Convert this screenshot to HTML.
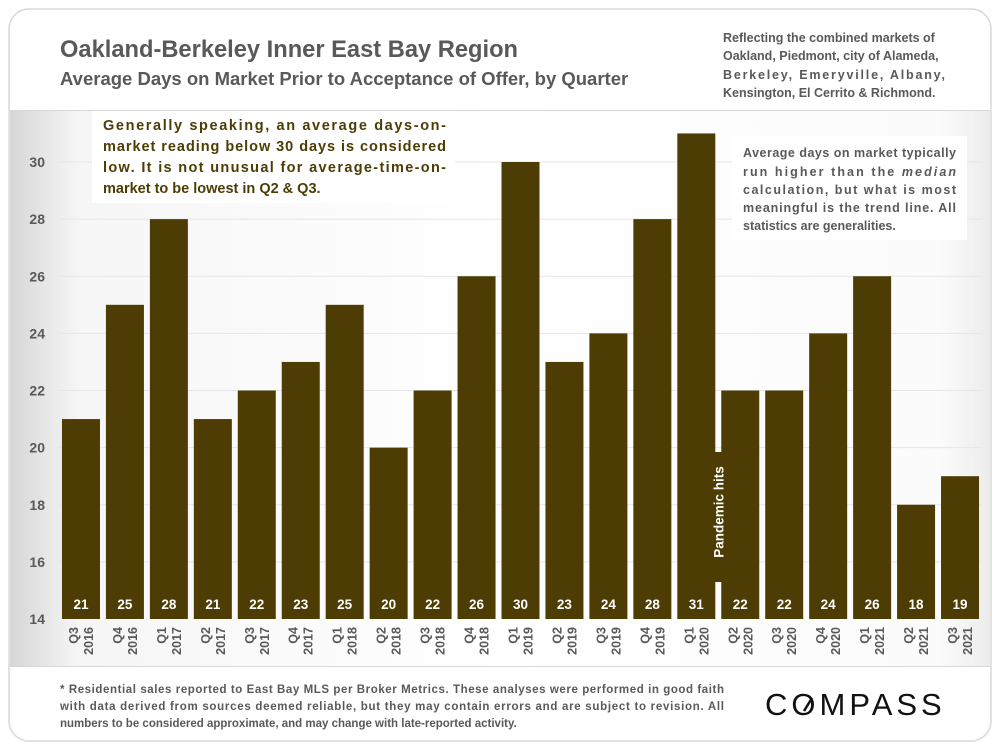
<!DOCTYPE html>
<html><head><meta charset="utf-8"><style>
html,body{margin:0;padding:0;background:#fff;}
body{width:1000px;height:750px;position:relative;overflow:hidden;font-family:"Liberation Sans",sans-serif;}
</style></head><body>
<svg width="1000" height="750" xmlns="http://www.w3.org/2000/svg" font-family="Liberation Sans, sans-serif">
<defs>
<linearGradient id="bg" x1="0" y1="0" x2="1" y2="0">
<stop offset="0" stop-color="#d6d6d6"/><stop offset="0.07" stop-color="#f6f6f6"/><stop offset="0.5" stop-color="#fff"/><stop offset="0.95" stop-color="#fbfbfb"/><stop offset="1" stop-color="#ececec"/>
</linearGradient>
</defs>
<rect x="9" y="9" width="982" height="732" rx="20" fill="#fff" stroke="#d8d8d8" stroke-width="1.5"/>
<rect x="10" y="111" width="980" height="555" fill="url(#bg)"/>
<line x1="10" y1="110.5" x2="990" y2="110.5" stroke="#d8d8d8"/>
<line x1="10" y1="666.5" x2="990" y2="666.5" stroke="#d8d8d8"/>
<text x="60" y="57" font-size="24" font-weight="bold" fill="#595959" textLength="458" lengthAdjust="spacingAndGlyphs">Oakland-Berkeley Inner East Bay Region</text>
<text x="60" y="85" font-size="18.5" font-weight="bold" fill="#595959">Average Days on Market Prior to Acceptance of Offer, by Quarter</text>
<g font-size="12.5" font-weight="bold" fill="#595959">
<text x="723" y="42">Reflecting the combined markets of</text>
<text x="723" y="60">Oakland, Piedmont, city of Alameda,</text>
<text x="723" y="79" textLength="222" lengthAdjust="spacing">Berkeley,    Emeryville,    Albany,</text>
<text x="723" y="97">Kensington, El Cerrito &amp; Richmond.</text>
</g>
<g id="grid"></g>
<g id="bars"></g>
<rect x="92" y="111" width="363" height="92" fill="#fff"/>
<g font-size="14.5" font-weight="bold" fill="#4d3d05">
<text x="103" y="130" textLength="343" lengthAdjust="spacing">Generally speaking, an average days-on-</text>
<text x="103" y="151" textLength="343" lengthAdjust="spacing">market reading below 30 days is considered</text>
<text x="103" y="172" textLength="343" lengthAdjust="spacing">low. It is not unusual for average-time-on-</text>
<text x="103" y="193">market to be lowest in Q2 &amp; Q3.</text>
</g>
<rect x="732" y="136" width="235" height="104" fill="#fff"/>
<g font-size="12.5" font-weight="bold" fill="#595959">
<text x="743" y="157" textLength="213" lengthAdjust="spacing">Average days on market typically</text>
<text x="743" y="176" textLength="213" lengthAdjust="spacing">run  higher  than  the  <tspan font-style="italic">median</tspan></text>
<text x="743" y="194" textLength="213" lengthAdjust="spacing">calculation,  but  what  is  most</text>
<text x="743" y="212" textLength="213" lengthAdjust="spacing">meaningful is the trend line. All</text>
<text x="743" y="230">statistics are generalities.</text>
</g>
<g font-size="11.5" font-weight="bold" fill="#595959">
<text x="60" y="693" textLength="664" lengthAdjust="spacing">* Residential sales reported to East Bay MLS per Broker Metrics. These analyses were performed in good faith</text>
<text x="60" y="710" textLength="664" lengthAdjust="spacing">with data derived from sources deemed reliable, but they may contain errors and are subject to revision. All</text>
<text x="60" y="727">numbers to  be considered approximate, and may change with late-reported activity.</text>
</g>
<text x="765" y="715" font-size="31" fill="#111" letter-spacing="4">COMPASS</text>
<line x1="804" y1="711" x2="812" y2="698" stroke="#111" stroke-width="2.5"/>
</svg>
<script>
const categories = [["Q3","2016"],["Q4","2016"],["Q1","2017"],["Q2","2017"],["Q3","2017"],["Q4","2017"],["Q1","2018"],["Q2","2018"],["Q3","2018"],["Q4","2018"],["Q1","2019"],["Q2","2019"],["Q3","2019"],["Q4","2019"],["Q1","2020"],["Q2","2020"],["Q3","2020"],["Q4","2020"],["Q1","2021"],["Q2","2021"],["Q3","2021"]];
const values = [21,25,28,21,22,23,25,20,22,26,30,23,24,28,31,22,22,24,26,18,19];
const yTicks = [14,16,18,20,22,24,26,28,30];
const NS = "http://www.w3.org/2000/svg";
const yMin = 14, yMax = 30;
const y0 = 619, y1 = 162;
function yScale(v){ return y0 - (v - yMin) * (y0 - y1) / (yMax - yMin); }
const left = 59, right = 982;
const step = (right - left) / categories.length;
function xCenter(i){ return left + step * (i + 0.5); }
const bw = 38;
function mk(tag, attrs, parent){ const e = document.createElementNS(NS, tag); for (const k in attrs) e.setAttribute(k, attrs[k]); parent.appendChild(e); return e; }
const grid = document.getElementById('grid');
const bars = document.getElementById('bars');
yTicks.forEach(t => {
  const y = yScale(t);
  if (t > yMin) {
    const l = mk('line', {x1: left, x2: right, y1: y, y2: y, stroke: '#e6e6e6', 'stroke-width': 1}, grid);
    
    
  }
  const tx = mk('text', {x: 45, y: y + 5, 'font-size': 14, 'font-weight': 'bold', fill: '#595959', 'text-anchor': 'end'}, grid);
  tx.textContent = t;
  
  
});
values.forEach((v, i) => {
  const cx = xCenter(i);
  const yt = yScale(v);
  const r = mk('rect', {x: cx - bw/2, y: yt, width: bw, height: y0 - yt, fill: '#4d3d05'}, bars);
  
  
  const lb = mk('text', {x: cx, y: 609, 'font-size': 13.5, 'font-weight': 'bold', fill: '#fff', 'text-anchor': 'middle'}, bars);
  lb.textContent = v;
  
  
  const g = mk('g', {transform: 'translate(' + cx + ',627) rotate(-90)'}, bars);
  
  
  const t1 = mk('text', {x: 0, y: -3, 'font-size': 12.5, 'font-weight': 'bold', fill: '#595959', 'text-anchor': 'end'}, g);
  t1.textContent = categories[i][0];
  const t2 = mk('text', {x: 0, y: 12, 'font-size': 12.5, 'font-weight': 'bold', fill: '#595959', 'text-anchor': 'end'}, g);
  t2.textContent = categories[i][1];
});
const pi = 14;
const px = (xCenter(pi) + xCenter(pi + 1)) / 2;
const pr = mk('rect', {x: px - 12, y: 452, width: 24, height: 130, fill: '#4d3d05'}, bars);


const pt = mk('text', {x: 0, y: 0, transform: 'translate(' + (px + 5) + ',512) rotate(-90)', 'font-size': 13.5, 'font-weight': 'bold', fill: '#fff', 'text-anchor': 'middle'}, bars);
pt.textContent = 'Pandemic hits';


</script>
</body></html>
